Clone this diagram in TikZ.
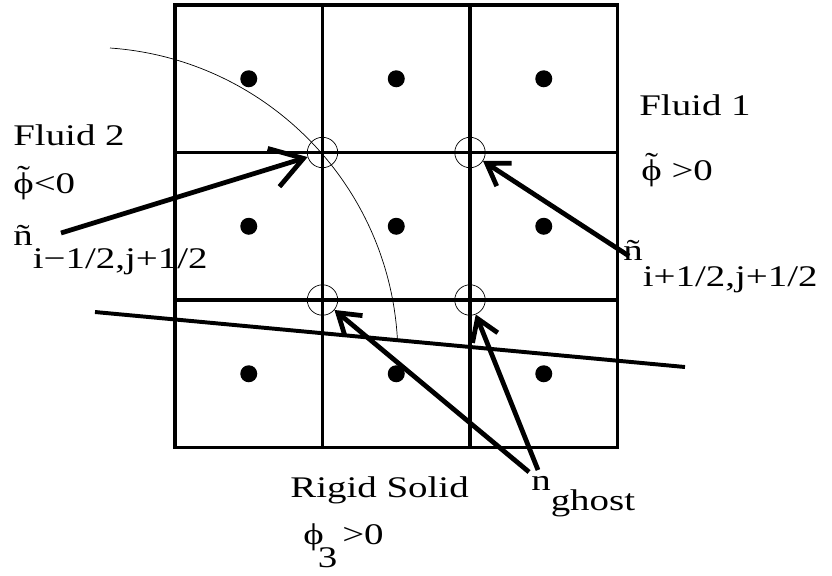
\documentclass[tikz,border=0pt]{standalone}
\usepackage{fontspec}
\setmainfont{Liberation Serif}[FakeStretch=1.3]
\usetikzlibrary{arrows.meta}
\newcommand{\tphi}{\leavevmode\ooalign{ϕ\cr\hidewidth\raisebox{0.22em}{\char"02DC}\hidewidth\cr}}

\begin{document}
\begin{tikzpicture}[x=0.025cm, y=-0.025cm, font=\fontsize{21.3}{25}\selectfont,
    cell/.style={line width=2.2pt},
    ring/.style={circle, draw, line width=0.5pt, minimum size=0.76cm, inner sep=0pt},
    lbl/.style={anchor=base west, inner sep=0pt},
    pointer/.style={line width=3.4pt, -{Straight Barb[length=0.52cm, width=0.68cm]}},
    bigpointer/.style={line width=3.4pt, -{Straight Barb[length=0.78cm, width=1.0cm]}}]
  \useasboundingbox (0,0) rectangle (832,575);
  % grid of cells
  \draw[cell] (175,5) rectangle (617.5,447.5);
  \foreach \k in {1,2} {
    \draw[cell] (175+147.5*\k,5) -- (175+147.5*\k,447.5);
    \draw[cell] (175,5+147.5*\k) -- (617.5,5+147.5*\k);
  }
  % cell centres
  \foreach \i in {0,1,2}
    \foreach \j in {0,1,2}
      \fill (248.75+147.5*\i,78.75+147.5*\j) circle (8.5);
  % interfaces
  \draw[line width=0.5pt] (110,48) arc[start angle=-86, end angle=-3, radius=309.5];
  \draw[line width=2.8pt] (95,312) -- (685,367);
  % corner nodes
  \node[ring] (nw) at (322.5,152.5) {};
  \node[ring] (ne) at (470,152.5) {};
  \node[ring] (sw) at (322.5,300) {};
  \node[ring] (se) at (470,300) {};
  % labels
  \node[lbl] (fluidtwo) at (13,145) {Fluid 2};
  \node[lbl] (phineg) at (13,193) {\tphi<0};
  \node[lbl] (nleft) at (13,245) {\~n\raisebox{-0.77em}{i−1/2,j+1/2}};
  \node[lbl] (fluidone) at (639,115) {Fluid 1};
  \node[lbl] (phipos) at (641,180) {\tphi\ >0};
  \node[lbl] (nright) at (623,260) {\~n\raisebox{-0.9em}{i+1/2,j+1/2}};
  \node[lbl] (solid) at (290,497) {Rigid Solid};
  \node[lbl] (phithree) at (303,544) {ϕ\kern-0.2em\raisebox{-0.8em}{3}\,>0};
  \node[lbl] (ghost) at (531,490) {n\raisebox{-0.7em}{ghost}};
  % normals
  \coordinate (aleft) at (61,233);
  \coordinate (aright) at (629,256);
  \coordinate (ga) at (529,472);
  \coordinate (gb) at (538,470);
  \draw[bigpointer] (aleft) -- (nw);
  \draw[pointer] (aright) -- (ne);
  \draw[pointer] (ga) -- (sw);
  \draw[pointer] (gb) -- (se);
\end{tikzpicture}
\end{document}
